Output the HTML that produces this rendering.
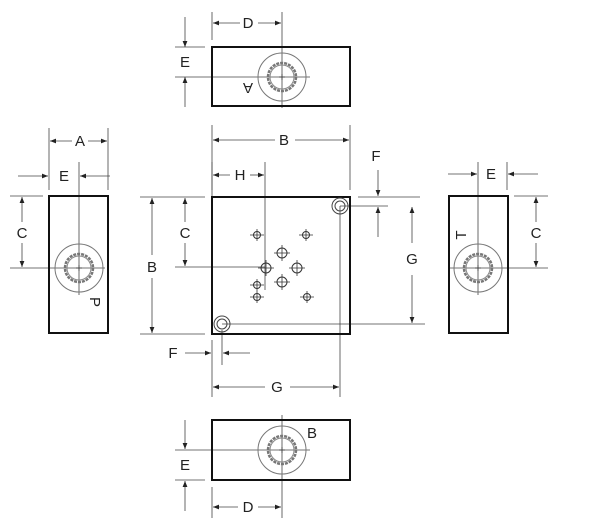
<!DOCTYPE html>
<html><head><style>body{margin:0;background:#fff}svg{display:block}text{font-family:"Liberation Sans",sans-serif;font-size:15px;fill:#222}</style></head><body>
<svg width="600" height="527" viewBox="0 0 600 527" xmlns="http://www.w3.org/2000/svg">
<defs>
<marker id="a" viewBox="0 0 10 10" refX="10" refY="5" markerWidth="9" markerHeight="6" orient="auto-start-reverse" markerUnits="userSpaceOnUse"><path d="M0,1 L10,5 L0,9z" fill="#222"/></marker>
<g id="port"><circle r="24" fill="none" stroke="#777" stroke-width="1"/><circle r="14" fill="none" stroke="#777" stroke-width="2.5" stroke-dasharray="3 1"/><circle r="12" fill="none" stroke="#888" stroke-width="1"/><path d="M-3,0h6M0,-3v6" stroke="#444"/></g>
<g id="h"><circle r="5" fill="none" stroke="#333"/><path d="M-8,0h16M0,-8v16" stroke="#333" stroke-width="0.8"/></g>
<g id="hs"><circle r="3.5" fill="none" stroke="#333"/><path d="M-7,0h14M0,-6v12" stroke="#333" stroke-width="0.8"/></g>
<g id="m"><circle r="8" fill="none" stroke="#444"/><circle r="5" fill="none" stroke="#444"/></g>
</defs>
<g stroke="#444" stroke-width="0.8" fill="none">
<line x1="212" y1="12" x2="212" y2="40"/><line x1="282" y1="12" x2="282" y2="108"/>
<line x1="175" y1="47" x2="205" y2="47"/><line x1="175" y1="77" x2="310" y2="77"/>
<line x1="185" y1="17" x2="185" y2="47" marker-end="url(#a)"/><line x1="185" y1="107" x2="185" y2="77" marker-end="url(#a)"/>
<line x1="240" y1="23" x2="213" y2="23" marker-end="url(#a)"/><line x1="258" y1="23" x2="281" y2="23" marker-end="url(#a)"/>
<line x1="49" y1="128" x2="49" y2="190"/><line x1="108" y1="128" x2="108" y2="190"/>
<line x1="79" y1="162" x2="79" y2="295"/>
<line x1="10" y1="196" x2="43" y2="196"/><line x1="10" y1="268" x2="105" y2="268"/>
<line x1="72" y1="141" x2="50" y2="141" marker-end="url(#a)"/><line x1="88" y1="141" x2="107" y2="141" marker-end="url(#a)"/>
<line x1="18" y1="176" x2="48" y2="176" marker-end="url(#a)"/><line x1="110" y1="176" x2="80" y2="176" marker-end="url(#a)"/>
<line x1="22" y1="222" x2="22" y2="197" marker-end="url(#a)"/><line x1="22" y1="243" x2="22" y2="267" marker-end="url(#a)"/>
<line x1="478" y1="162" x2="478" y2="295"/><line x1="507" y1="162" x2="507" y2="190"/>
<line x1="514" y1="196" x2="548" y2="196"/><line x1="449" y1="268" x2="548" y2="268"/>
<line x1="448" y1="174" x2="477" y2="174" marker-end="url(#a)"/><line x1="538" y1="174" x2="508" y2="174" marker-end="url(#a)"/>
<line x1="536" y1="222" x2="536" y2="197" marker-end="url(#a)"/><line x1="536" y1="243" x2="536" y2="267" marker-end="url(#a)"/>
<line x1="212" y1="125" x2="212" y2="190"/><line x1="350" y1="125" x2="350" y2="190"/>
<line x1="275" y1="140" x2="213" y2="140" marker-end="url(#a)"/><line x1="295" y1="140" x2="349" y2="140" marker-end="url(#a)"/>
<line x1="212" y1="162" x2="212" y2="205"/><line x1="265" y1="162" x2="265" y2="290"/>
<line x1="230" y1="175" x2="213" y2="175" marker-end="url(#a)"/><line x1="250" y1="175" x2="264" y2="175" marker-end="url(#a)"/>
<line x1="140" y1="197" x2="205" y2="197"/><line x1="140" y1="334" x2="205" y2="334"/><line x1="175" y1="267" x2="265" y2="267"/>
<line x1="185" y1="222" x2="185" y2="198" marker-end="url(#a)"/><line x1="185" y1="243" x2="185" y2="266" marker-end="url(#a)"/>
<line x1="152" y1="255" x2="152" y2="198" marker-end="url(#a)"/><line x1="152" y1="278" x2="152" y2="333" marker-end="url(#a)"/>
<line x1="358" y1="197" x2="420" y2="197"/><line x1="340" y1="206" x2="388" y2="206"/>
<line x1="378" y1="170" x2="378" y2="196" marker-end="url(#a)"/><line x1="378" y1="237" x2="378" y2="207" marker-end="url(#a)"/>
<line x1="340" y1="206" x2="340" y2="397"/><line x1="222" y1="324" x2="425" y2="324"/>
<line x1="412" y1="243" x2="412" y2="207" marker-end="url(#a)"/><line x1="412" y1="275" x2="412" y2="323" marker-end="url(#a)"/>
<line x1="212" y1="340" x2="212" y2="397"/><line x1="222" y1="330" x2="222" y2="365"/>
<line x1="185" y1="353" x2="211" y2="353" marker-end="url(#a)"/><line x1="250" y1="353" x2="223" y2="353" marker-end="url(#a)"/>
<line x1="265" y1="387" x2="213" y2="387" marker-end="url(#a)"/><line x1="290" y1="387" x2="339" y2="387" marker-end="url(#a)"/>
<line x1="282" y1="415" x2="282" y2="518"/><line x1="212" y1="487" x2="212" y2="518"/>
<line x1="175" y1="450" x2="310" y2="450"/><line x1="175" y1="480" x2="205" y2="480"/>
<line x1="185" y1="420" x2="185" y2="449" marker-end="url(#a)"/><line x1="185" y1="511" x2="185" y2="481" marker-end="url(#a)"/>
<line x1="238" y1="507" x2="213" y2="507" marker-end="url(#a)"/><line x1="258" y1="507" x2="281" y2="507" marker-end="url(#a)"/>
</g>
<g stroke="#111" stroke-width="2" fill="none">
<rect x="212" y="47" width="138" height="59"/>
<rect x="49" y="196" width="59" height="137"/>
<rect x="449" y="196" width="59" height="137"/>
<rect x="212" y="197" width="138" height="137"/>
<rect x="212" y="420" width="138" height="60"/>
</g>
<use href="#port" x="282" y="77"/><use href="#port" x="79" y="268"/><use href="#port" x="478" y="268"/><use href="#port" x="282" y="450"/>
<use href="#m" x="340" y="206"/><use href="#m" x="222" y="324"/>
<use href="#hs" x="257" y="235"/><use href="#hs" x="306" y="235"/><use href="#h" x="282" y="253"/><use href="#h" x="266" y="268"/><use href="#h" x="297" y="268"/><use href="#h" x="282" y="282"/><use href="#hs" x="257" y="285"/><use href="#hs" x="257" y="297"/><use href="#hs" x="307" y="297"/>
<text x="248" y="28" text-anchor="middle">D</text>
<text x="185" y="67" text-anchor="middle">E</text>
<text x="248" y="93" text-anchor="middle" transform="rotate(180 248 88)">A</text>
<text x="80" y="146" text-anchor="middle">A</text>
<text x="64" y="181" text-anchor="middle">E</text>
<text x="22" y="238" text-anchor="middle">C</text>
<text x="95" y="307" text-anchor="middle" transform="rotate(90 95 302)">P</text>
<text x="491" y="179" text-anchor="middle">E</text>
<text x="536" y="238" text-anchor="middle">C</text>
<text x="461" y="240" text-anchor="middle" transform="rotate(-90 461 235)">T</text>
<text x="284" y="145" text-anchor="middle">B</text>
<text x="240" y="180" text-anchor="middle">H</text>
<text x="185" y="238" text-anchor="middle">C</text>
<text x="152" y="272" text-anchor="middle">B</text>
<text x="376" y="161" text-anchor="middle">F</text>
<text x="412" y="264" text-anchor="middle">G</text>
<text x="173" y="358" text-anchor="middle">F</text>
<text x="277" y="392" text-anchor="middle">G</text>
<text x="312" y="438" text-anchor="middle">B</text>
<text x="185" y="470" text-anchor="middle">E</text>
<text x="248" y="512" text-anchor="middle">D</text>
</svg>
</body></html>
